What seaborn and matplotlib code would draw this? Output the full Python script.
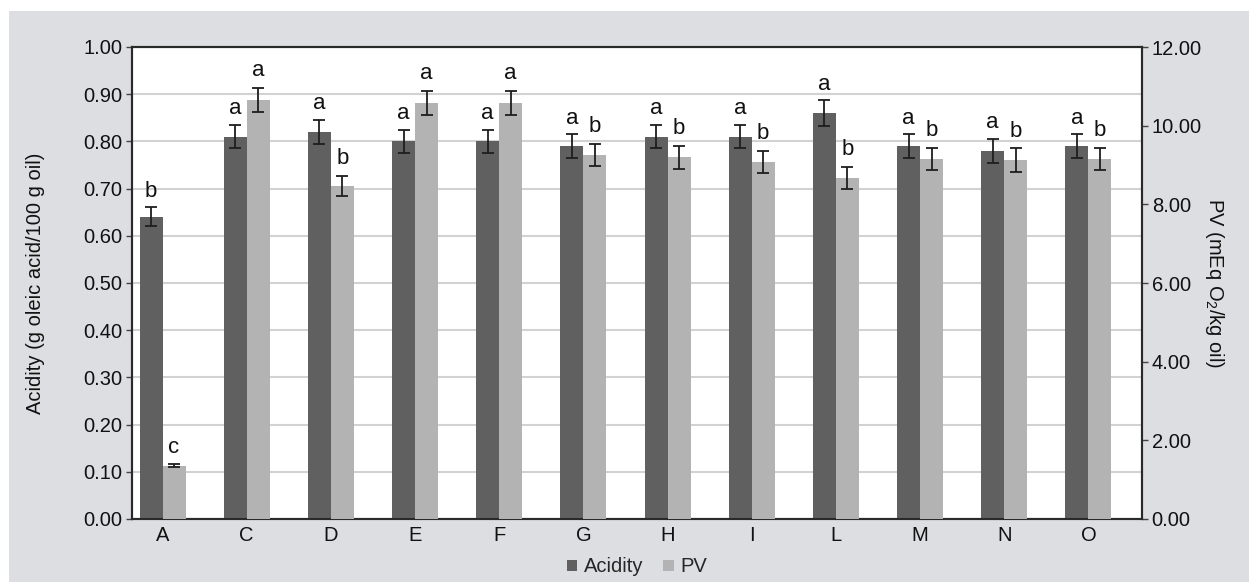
import numpy as np
import pandas as pd
import matplotlib
matplotlib.use('Agg')
import matplotlib.pyplot as plt
import seaborn as sns
from matplotlib import font_manager
from matplotlib.patches import Rectangle, Patch
from matplotlib.ticker import FormatStrFormatter, MultipleLocator

# ---------------- data ----------------
samples = ['A', 'C', 'D', 'E', 'F', 'G', 'H', 'I', 'L', 'M', 'N', 'O']
acidity = [0.64, 0.81, 0.82, 0.80, 0.80, 0.79, 0.81, 0.81, 0.86, 0.79, 0.78, 0.79]
acidity_err = [0.02, 0.025, 0.025, 0.025, 0.025, 0.025, 0.025, 0.025, 0.027, 0.025, 0.025, 0.025]
pv = [1.35, 10.65, 8.47, 10.58, 10.58, 9.26, 9.20, 9.08, 8.68, 9.15, 9.12, 9.16]
pv_err = [0.04, 0.31, 0.25, 0.31, 0.31, 0.28, 0.29, 0.28, 0.28, 0.28, 0.30, 0.28]
acidity_letters = ['b', 'a', 'a', 'a', 'a', 'a', 'a', 'a', 'a', 'a', 'a', 'a']
pv_letters = ['c', 'a', 'b', 'a', 'a', 'b', 'b', 'b', 'b', 'b', 'b', 'b']
series = ['Acidity', 'PV', '_spacer']

# ---------------- style ----------------
sns.set_theme(style='white')
installed = {f.name for f in font_manager.fontManager.ttflist}
family = 'Liberation Sans Narrow' if 'Liberation Sans Narrow' in installed else 'Liberation Sans'
plt.rcParams['font.family'] = [family, 'DejaVu Sans']
plt.rcParams['mathtext.fontset'] = 'custom'
plt.rcParams['mathtext.rm'] = family
plt.rcParams['mathtext.it'] = family

DARK = '#606060'
LIGHT = '#b3b3b3'
BG = '#dddee1'
palette = {'Acidity': DARK, 'PV': LIGHT, '_spacer': 'none'}
TICK_FS = 14.5
LETTER_FS = 16

df_ac = pd.DataFrame({'sample': samples, 'value': acidity, 'series': 'Acidity'})
df_pv = pd.DataFrame({'sample': samples, 'value': pv, 'series': 'PV'})

fig = plt.figure(figsize=(12.49, 5.82), dpi=100, facecolor='white')
fig.patches.append(Rectangle((9 / 1249, 0), 1, 1 - 11 / 582, transform=fig.transFigure,
                             facecolor=BG, edgecolor='none', zorder=-10))

L, R, B, T = 132 / 1249, 1142 / 1249, 1 - 519 / 582, 1 - 47 / 582
ax1 = fig.add_axes([L, B, R - L, T - B])
ax1.set_facecolor('white')
ax2 = ax1.twinx()

sns.barplot(data=df_ac, x='sample', y='value', hue='series', hue_order=series,
            order=samples, palette=palette, width=0.82, gap=0, dodge=True, errorbar=None,
            legend=False, ax=ax1, zorder=3, linewidth=0)
sns.barplot(data=df_pv, x='sample', y='value', hue='series', hue_order=series,
            order=samples, palette=palette, width=0.82, gap=0, dodge=True, errorbar=None,
            legend=False, ax=ax2, zorder=3, linewidth=0)


def bar_centers(ax):
    patches = [p for c in ax.containers for p in c.patches if p.get_height() > 0]
    patches.sort(key=lambda p: p.get_x())
    return [p.get_x() + p.get_width() / 2 for p in patches], [p.get_height() for p in patches]


xa, ha = bar_centers(ax1)
xp, hp = bar_centers(ax2)

ekw = dict(fmt='none', ecolor='#1e1e1e', elinewidth=1.3, capsize=4.5, capthick=1.3, zorder=5)
ax1.errorbar(xa, ha, yerr=acidity_err, **ekw)
ax2.errorbar(xp, hp, yerr=pv_err, **ekw)

for x, h, e, t in zip(xa, ha, acidity_err, acidity_letters):
    ax1.text(x, h + e + 0.012, t, ha='center', va='bottom', fontsize=LETTER_FS, color='#111111')
for x, h, e, t in zip(xp, hp, pv_err, pv_letters):
    ax2.text(x, h + e + 0.17, t, ha='center', va='bottom', fontsize=LETTER_FS, color='#111111')

# axes limits / ticks
ax1.set_xlim(-0.5, len(samples) - 0.5)
ax1.set_ylim(0, 1.0)
ax2.set_ylim(0, 12)
ax1.yaxis.set_major_locator(MultipleLocator(0.1))
ax1.yaxis.set_major_formatter(FormatStrFormatter('%.2f'))
ax2.yaxis.set_major_locator(MultipleLocator(2))
ax2.yaxis.set_major_formatter(FormatStrFormatter('%.2f'))

pair_offset = 0.82 / 3 / 2
ax1.set_xticks(np.arange(len(samples)) - pair_offset)
ax1.set_xticklabels(samples)

ax1.yaxis.grid(True, color='#d2d2d2', linewidth=1.5, zorder=0)
ax1.set_axisbelow(True)
ax2.grid(False)

for ax in (ax1, ax2):
    for s in ax.spines.values():
        s.set_visible(True)
        s.set_color('#2a2a2a')
        s.set_linewidth(1.5)
    ax.set_xlabel('')
ax1.tick_params(axis='y', which='major', left=True, length=4, width=1, color='#444444',
                labelsize=TICK_FS, pad=3, labelcolor='#111111')
ax1.tick_params(axis='x', length=0, labelsize=TICK_FS, pad=5, labelcolor='#111111')
ax2.tick_params(axis='y', which='major', right=True, length=4, width=1, color='#444444',
                labelsize=TICK_FS, pad=3, labelcolor='#111111')

ax1.set_ylabel('Acidity (g oleic acid/100 g oil)', fontsize=TICK_FS, color='#111111')
ax1.yaxis.set_label_coords(-0.086, 0.5)
ax2.set_ylabel(r'PV (mEq O$_2$/kg oil)', fontsize=TICK_FS, color='#111111', rotation=-90,
               va='center')
ax2.yaxis.set_label_coords(1.072, 0.5)

handles = [Patch(facecolor=DARK, edgecolor='none'), Patch(facecolor=LIGHT, edgecolor='none')]
fig.legend(handles, ['Acidity', 'PV'], loc='center', bbox_to_anchor=(637 / 1249, 1 - 567 / 582),
           ncol=2, frameon=False, fontsize=TICK_FS, handlelength=0.5, handleheight=0.5,
           handletextpad=0.35, columnspacing=1.0)

fig.savefig('out.png', dpi=100, facecolor=fig.get_facecolor())
